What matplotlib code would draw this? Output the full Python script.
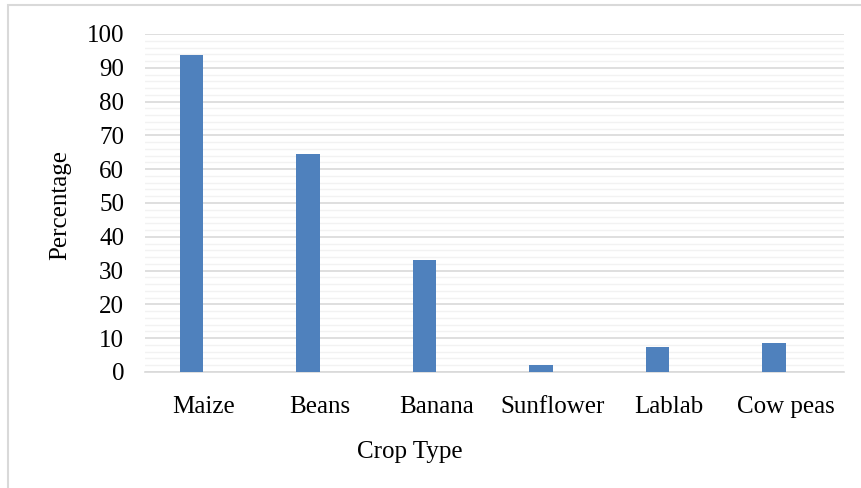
import matplotlib.pyplot as plt
import matplotlib.patches as mpatches
import numpy as np

# Crop adoption data
crops = ['Maize', 'Beans', 'Banana', 'Sunflower', 'Lablab', 'Cow peas']
percentages = [93.8, 64.5, 33.1, 2.0, 7.3, 8.5]

BAR_COLOR = '#4F81BD'
FONT_SIZE = 18

plt.rcParams['font.family'] = ['Liberation Serif', 'DejaVu Serif']

fig = plt.figure(figsize=(8.61, 4.88), dpi=100)
ax = fig.add_axes([145 / 861, 1 - 372 / 488, 699 / 861, 338 / 488])

x = np.arange(len(crops))
ax.bar(x - 0.1, percentages, width=0.2, color=BAR_COLOR, zorder=3)

ax.set_xlim(-0.5, len(crops) - 0.5)
ax.set_ylim(0, 100)
ax.set_yticks(np.arange(0, 101, 10))
ax.set_yticks(np.arange(0, 101, 2), minor=True)
ax.set_xticks(x)
ax.set_xticklabels(crops)

ax.grid(axis='y', which='major', color='#D9D9D9', linewidth=1.2, zorder=0)
ax.grid(axis='y', which='minor', color='#F2F2F2', linewidth=1.0, zorder=0)

for side in ['top', 'right', 'left']:
    ax.spines[side].set_visible(False)
ax.spines['bottom'].set_color('#D9D9D9')
ax.spines['bottom'].set_linewidth(1.2)

ax.tick_params(axis='both', which='both', length=0, labelsize=FONT_SIZE, colors='black')
ax.tick_params(axis='x', pad=17)
ax.tick_params(axis='y', pad=15)

# Axis titles placed like the original (x title sits left of axes centre)
fig.text(410 / 861, 1 - 452 / 488, 'Crop Type', fontsize=FONT_SIZE,
         ha='center', va='center')
fig.text(60 / 861, 1 - 205 / 488, 'Percentage', fontsize=FONT_SIZE,
         ha='center', va='center', rotation=90)

# Light frame around the whole chart area
frame = mpatches.Rectangle((8 / 861, -0.1), 1.2, 1 - 5 / 488 + 0.1,
                           transform=fig.transFigure, fill=False,
                           edgecolor='#D9D9D9', linewidth=1.5)
fig.patches.append(frame)

fig.savefig('out.png', dpi=100, facecolor='white')
